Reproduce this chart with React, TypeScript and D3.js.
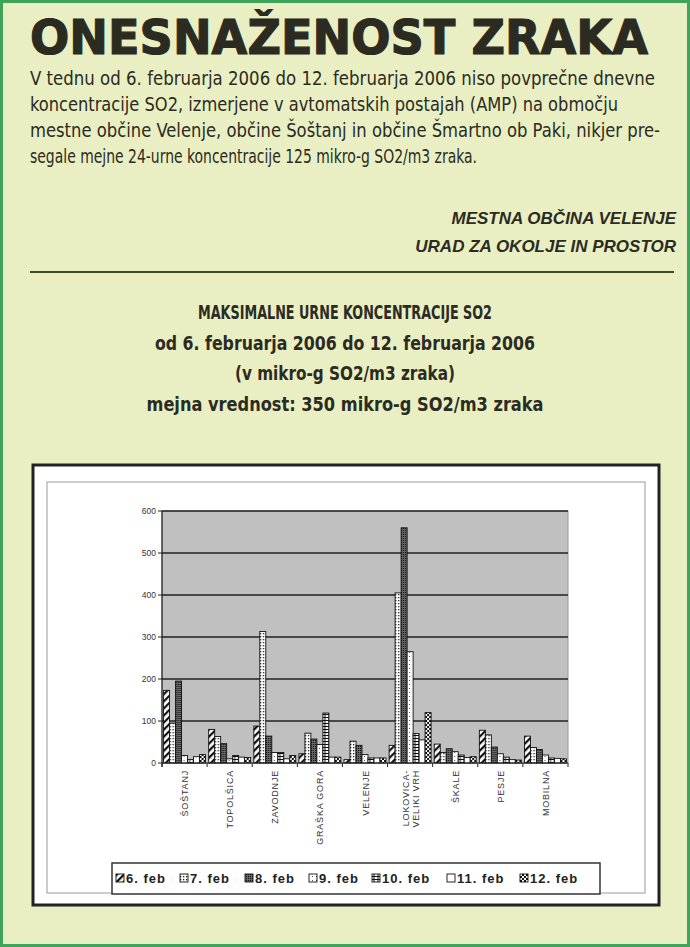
import React from "react";
import * as d3 from "d3";

// stations and daily maxima (mikro-g SO2/m3)
const stations = [
  "ŠOŠTANJ",
  "TOPOLŠICA",
  "ZAVODNJE",
  "GRAŠKA GORA",
  "VELENJE",
  "LOKOVICA-|VELIKI VRH",
  "ŠKALE",
  "PESJE",
  "MOBILNA",
];
const days = ["6. feb", "7. feb", "8. feb", "9. feb", "10. feb", "11. feb", "12. feb"];
const feb6 = [173, 80, 88, 22, 8, 42, 45, 78, 64];
const feb7 = [95, 63, 313, 71, 52, 405, 25, 67, 37];
const feb8 = [195, 46, 64, 57, 42, 560, 34, 38, 32];
const feb9 = [18, 10, 25, 44, 20, 265, 27, 22, 19];
const feb10 = [8, 18, 25, 119, 12, 70, 19, 14, 12];
const feb11 = [15, 14, 10, 14, 12, 55, 13, 8, 11];
const feb12 = [20, 13, 18, 14, 12, 120, 15, 7, 10];
const series = [feb6, feb7, feb8, feb9, feb10, feb11, feb12];
const yTicks = [0, 100, 200, 300, 400, 500, 600];

const paragraph = [
  "V tednu od 6. februarja 2006 do 12. februarja 2006 niso povprečne dnevne",
  "koncentracije SO2, izmerjene v avtomatskih postajah (AMP) na območju",
  "mestne občine Velenje, občine Šoštanj in občine Šmartno ob Paki, nikjer pre-",
  "segale mejne 24-urne koncentracije 125 mikro-g SO2/m3 zraka.",
];
const paraWidths = [625, 588, 630, 447];
const titles = [
  "MAKSIMALNE URNE KONCENTRACIJE SO2",
  "od 6. februarja 2006 do 12. februarja 2006",
  "(v mikro-g SO2/m3 zraka)",
  "mejna vrednost: 350 mikro-g SO2/m3 zraka",
];
const titleWidths = [294, 380, 220, 397];

const W = 690;
const H = 947;
const plot = { left: 162, right: 568, top: 511, bottom: 763 };
const ink = "#2b2b22";

export default function App() {
  const x0 = d3
    .scaleBand()
    .domain(stations)
    .range([plot.left, plot.right])
    .paddingInner(0.07)
    .paddingOuter(0.035);
  const x1 = d3
    .scaleBand()
    .domain(days)
    .range([0, x0.bandwidth()]);
  const y = d3.scaleLinear().domain([0, 600]).range([plot.bottom, plot.top]);
  const step = x0.step();

  const legendX = [116, 180, 245, 309, 372, 447, 520];

  return (
    <svg
      width={W}
      height={H}
      style={{ position: "absolute", left: 0, top: 0 }}
      fontFamily="Liberation Sans, Arial, sans-serif"
    >
      <defs>
        <pattern id="p0" width="5" height="5" patternUnits="userSpaceOnUse" patternTransform="rotate(45)">
          <rect width="5" height="5" fill="#fff" />
          <rect width="2.2" height="5" fill="#111" />
        </pattern>
        <pattern id="p1" width="3" height="3" patternUnits="userSpaceOnUse">
          <rect width="3" height="3" fill="#fff" />
          <rect width="1.3" height="1.3" fill="#222" />
        </pattern>
        <pattern id="p2" width="2" height="2" patternUnits="userSpaceOnUse">
          <rect width="2" height="2" fill="#666" />
          <rect width="1" height="1" fill="#111" />
        </pattern>
        <pattern id="p3" width="4" height="4" patternUnits="userSpaceOnUse">
          <rect width="4" height="4" fill="#fff" />
          <rect width="1" height="1" fill="#555" />
        </pattern>
        <pattern id="p4" width="4" height="3" patternUnits="userSpaceOnUse">
          <rect width="4" height="3" fill="#fff" />
          <rect width="4" height="1" fill="#111" />
          <rect x="1.5" width="1" height="3" fill="#111" />
        </pattern>
        <pattern id="p5" width="4" height="4" patternUnits="userSpaceOnUse">
          <rect width="4" height="4" fill="#fff" />
        </pattern>
        <pattern id="p6" width="4" height="4" patternUnits="userSpaceOnUse">
          <rect width="4" height="4" fill="#fff" />
          <rect width="2" height="2" fill="#111" />
          <rect x="2" y="2" width="2" height="2" fill="#111" />
        </pattern>
      </defs>

      {/* page */}
      <rect x={1.5} y={1.5} width={W - 3} height={H - 3} fill="#e9efc3" stroke="#3fa35a" strokeWidth={3} />

      <text
        x={30}
        y={54}
        fontFamily="DejaVu Sans, sans-serif"
        fontWeight={900}
        fontSize={48}
        fill={ink}
        textLength={618}
        lengthAdjust="spacingAndGlyphs"
        stroke={ink}
        strokeWidth={1.2}
      >
        ONESNAŽENOST ZRAKA
      </text>

      {paragraph.map((line, i) => (
        <text
          key={i}
          x={30}
          y={85 + i * 26}
          fontFamily="DejaVu Sans Condensed, sans-serif"
          fontSize={19}
          fill={ink}
          textLength={paraWidths[i]}
          lengthAdjust="spacingAndGlyphs"
        >
          {line}
        </text>
      ))}

      <text x={676} y={224} textAnchor="end" fontWeight="bold" fontStyle="italic" fontSize={17} fill={ink}>
        MESTNA OBČINA VELENJE
      </text>
      <text x={676} y={252} textAnchor="end" fontWeight="bold" fontStyle="italic" fontSize={17} fill={ink}>
        URAD ZA OKOLJE IN PROSTOR
      </text>
      <line x1={30} x2={674} y1={272} y2={272} stroke="#3b4a22" strokeWidth={2} />

      {titles.map((t, i) => (
        <text
          key={i}
          x={345}
          y={319 + i * 30.5}
          textAnchor="middle"
          fontFamily="DejaVu Sans Condensed, sans-serif"
          fontWeight="bold"
          fontSize={i === 0 ? 19 : 20}
          fill={ink}
          textLength={titleWidths[i]}
          lengthAdjust="spacingAndGlyphs"
        >
          {t}
        </text>
      ))}

      {/* chart frame */}
      <rect x={33} y={465} width={626} height={440} fill="#fff" stroke="#222" strokeWidth={3} />
      <rect x={47} y={482} width={598} height={411} fill="none" stroke="#999" strokeWidth={1} />

      <rect
        x={plot.left}
        y={plot.top}
        width={plot.right - plot.left}
        height={plot.bottom - plot.top}
        fill="#c0c0c0"
        stroke="#9a9a9a"
      />
      {yTicks.map((t) => (
        <g key={t}>
          {t > 0 && (
            <line x1={plot.left} x2={plot.right} y1={y(t)} y2={y(t)} stroke="#222" strokeWidth={1.3} />
          )}
          <line x1={plot.left - 4} x2={plot.left} y1={y(t)} y2={y(t)} stroke="#222" />
          <text x={plot.left - 6} y={y(t) + 3} textAnchor="end" fontSize={8.5} fill="#333">
            {t}
          </text>
        </g>
      ))}

      {stations.map((s, ci) => (
        <g key={s} transform={`translate(${x0(s)},0)`}>
          {series.map((vals, si) => (
            <rect
              key={si}
              x={x1(days[si])}
              y={y(vals[ci])}
              width={x1.bandwidth()}
              height={plot.bottom - y(vals[ci])}
              fill={`url(#p${si})`}
              stroke="#111"
              strokeWidth={0.9}
            />
          ))}
        </g>
      ))}

      <line x1={plot.left} x2={plot.left} y1={plot.top} y2={plot.bottom + 4} stroke="#222" strokeWidth={1.2} />
      <line x1={plot.left} x2={plot.right} y1={plot.bottom} y2={plot.bottom} stroke="#222" strokeWidth={1.2} />
      {d3.range(stations.length + 1).map((i) => (
        <line
          key={i}
          x1={plot.left + i * step}
          x2={plot.left + i * step}
          y1={plot.bottom}
          y2={plot.bottom + 4}
          stroke="#222"
        />
      ))}

      {stations.map((s) => {
        const lines = s.split("|");
        const cx = (x0(s) as number) + x0.bandwidth() / 2;
        return lines.map((ln, li) => (
          <text
            key={s + li}
            transform={`translate(${cx + 3.5 - (lines.length - 1) * 5 + li * 10},770) rotate(-90)`}
            textAnchor="end"
            fontSize={9}
            letterSpacing={0.8}
            fill="#333"
          >
            {ln}
          </text>
        ));
      })}

      {/* legend */}
      <rect x={112} y={863} width={488} height={31} fill="#fff" stroke="#333" strokeWidth={1.5} />
      {days.map((d, i) => (
        <g key={d}>
          <rect x={legendX[i]} y={874} width={8} height={8} fill={`url(#p${i})`} stroke="#111" strokeWidth={0.9} />
          <text x={legendX[i] + 10} y={883} fontSize={13} fontWeight="bold" letterSpacing={1} fill="#222">
            {d}
          </text>
        </g>
      ))}
    </svg>
  );
}
